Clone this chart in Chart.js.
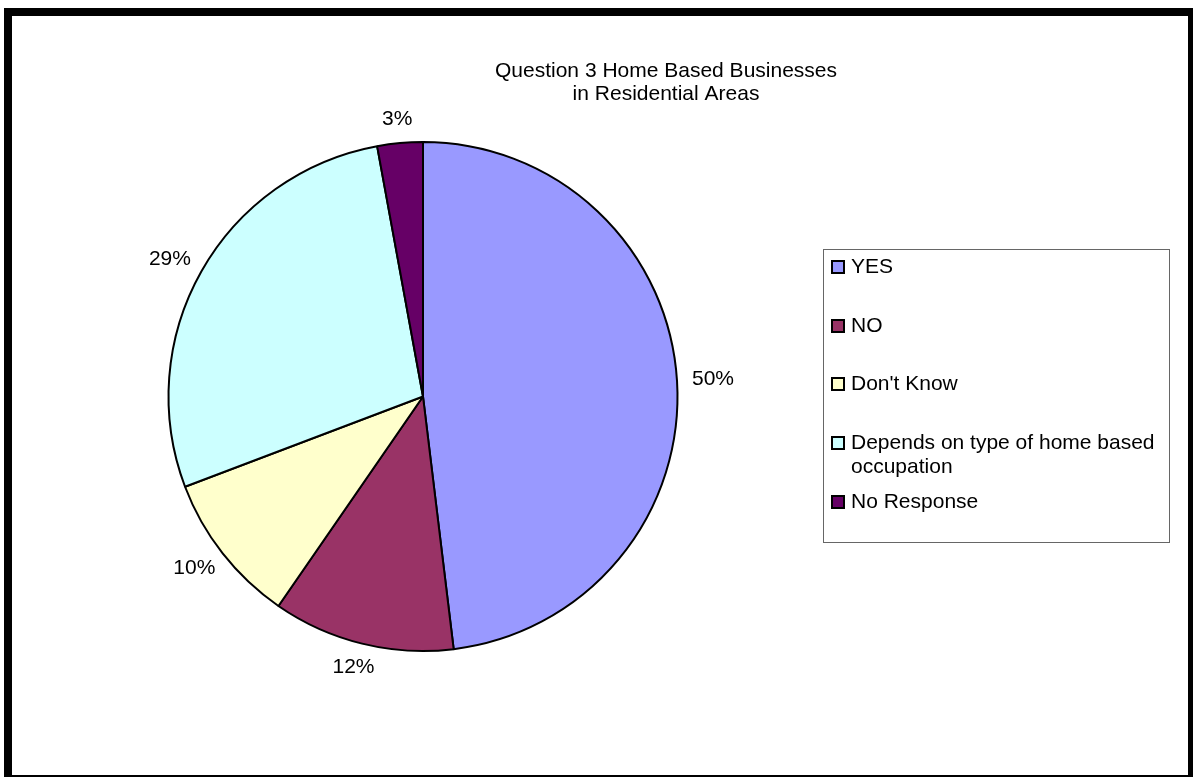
<!DOCTYPE html>
<html>
<head>
<meta charset="utf-8">
<title>Question 3 Home Based Businesses</title>
<script src="https://cdn.jsdelivr.net/npm/chart.js@4"></script>
<style>
  body { margin: 0; background: #fff; }
  canvas { display: block; }
</style>
</head>
<body>
<canvas id="myChart" width="1193" height="777"></canvas>
<script>
const titleLines = ["Question 3 Home Based Businesses", "in Residential Areas"];
const answers = ["YES", "NO", "Don't Know", "Depends on type of home based occupation", "No Response"];
const percents = [50, 12, 10, 29, 3];
const sliceColors = ["#9999FF", "#993366", "#FFFFCC", "#CCFFFF", "#660066"];

const FONT = '"Liberation Sans", Arial, sans-serif';

// white page with the heavy black frame round it
const framePlugin = {
  id: 'frame',
  beforeDraw(chart) {
    const c = chart.ctx;
    c.save();
    c.fillStyle = '#fff';
    c.fillRect(0, 0, chart.width, chart.height);
    c.strokeStyle = '#000';
    c.lineWidth = 8;
    c.strokeRect(8, 12, 1184, 767);
    c.restore();
  }
};

// two line title over the pie
const titlePlugin = {
  id: 'titleLines',
  afterDraw(chart) {
    const c = chart.ctx;
    c.save();
    c.font = '21px ' + FONT;
    c.fillStyle = '#000';
    c.textAlign = 'center';
    c.textBaseline = 'middle';
    titleLines.forEach((t, i) => c.fillText(t, 666, 71 + i * 23));
    c.restore();
  }
};

// percent labels just outside each slice
const outsideLabels = {
  id: 'outsideLabels',
  afterDatasetsDraw(chart) {
    const c = chart.ctx;
    const arcs = chart.getDatasetMeta(0).data;
    c.save();
    c.font = '21px ' + FONT;
    c.fillStyle = '#000';
    c.textAlign = 'center';
    c.textBaseline = 'middle';
    arcs.forEach((arc, i) => {
      const mid = (arc.startAngle + arc.endAngle) / 2;
      const cos = Math.cos(mid), sin = Math.sin(mid);
      const text = percents[i] + '%';
      const w = c.measureText(text).width;
      const r = arc.outerRadius + 15;
      const x = arc.x + r * cos + cos * w / 2;
      const y = arc.y + r * sin + sin * 9;
      c.fillText(text, x, y);
    });
    c.restore();
  }
};

// boxed legend on the right, long entries wrap
const boxLegend = {
  id: 'boxLegend',
  afterDraw(chart) {
    const c = chart.ctx;
    const left = 823, top = 249, right = 1169, bottom = 542;
    c.save();
    c.strokeStyle = '#666';
    c.lineWidth = 1;
    c.strokeRect(left + 0.5, top + 0.5, right - left, bottom - top);

    c.font = '21px ' + FONT;
    c.textBaseline = 'middle';
    c.textAlign = 'left';
    const rows = [[267], [326], [384], [443, 467], [502]];
    const textX = 851;
    const maxW = right - textX - 8;
    answers.forEach((label, i) => {
      // split into lines that fit the box
      const words = label.split(' ');
      const lines = [];
      let cur = '';
      words.forEach(wd => {
        const test = cur ? cur + ' ' + wd : wd;
        if (c.measureText(test).width > maxW && cur) {
          lines.push(cur);
          cur = wd;
        } else {
          cur = test;
        }
      });
      lines.push(cur);

      const y0 = rows[i][0];
      c.fillStyle = sliceColors[i];
      c.fillRect(832, y0 - 6, 12, 12);
      c.strokeStyle = '#000';
      c.lineWidth = 2;
      c.strokeRect(832, y0 - 6, 12, 12);

      c.fillStyle = '#000';
      lines.forEach((ln, k) => c.fillText(ln, textX, y0 + k * 24));
    });
    c.restore();
  }
};

let ctx = document.getElementById('myChart').getContext('2d');
let chart = new Chart(ctx, {
  type: 'pie',
  data: {
    labels: answers,
    datasets: [{
      data: percents,
      backgroundColor: sliceColors,
      borderColor: '#000',
      borderWidth: 2
    }]
  },
  options: {
    responsive: false,
    animation: false,
    devicePixelRatio: 1,
    layout: {
      padding: { left: 167, right: 514, top: 141, bottom: 125 }
    },
    plugins: {
      legend: { display: false },
      title: { display: false },
      tooltip: { enabled: false }
    }
  },
  plugins: [framePlugin, titlePlugin, outsideLabels, boxLegend]
});
</script>
</body>
</html>
